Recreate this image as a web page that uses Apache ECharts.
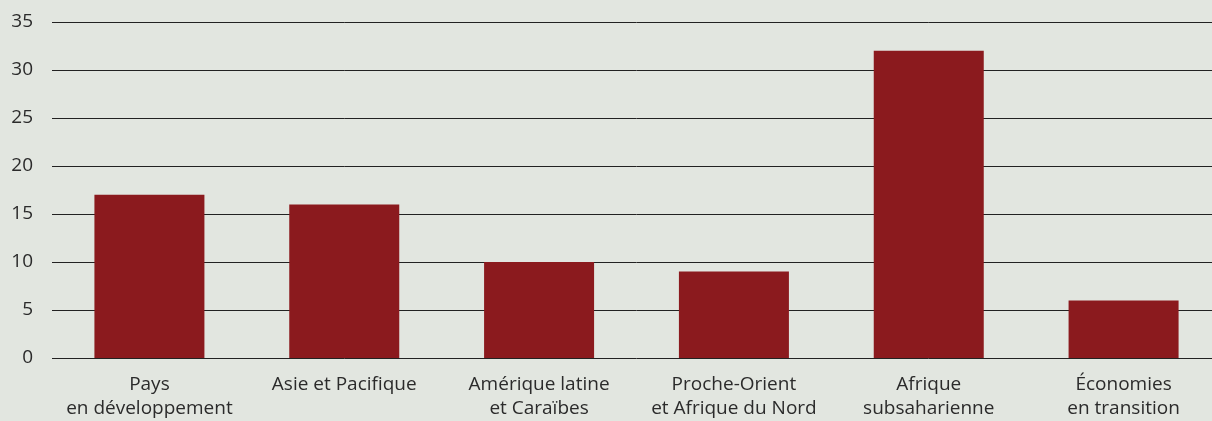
<!DOCTYPE html>
<html><head><meta charset="utf-8">
<script src="https://cdn.jsdelivr.net/npm/echarts@6/dist/echarts.min.js"></script>
<style>html,body{margin:0;padding:0;background:#e2e6e0;overflow:hidden;width:1212px;height:421px;}#c{width:1221px;height:421px;}</style>
</head><body><div id="c"></div>
<script>
const categories = ["Pays\nen développement","Asie et Pacifique","Amérique latine\net Caraïbes","Proche-Orient\net Afrique du Nord","Afrique\nsubsaharienne","Économies\nen transition"];
const values = [17, 16, 10, 9, 32, 6];
const yTicks = {min: 0, max: 35, interval: 5};
const chart = echarts.init(document.getElementById('c'));
chart.setOption({
  backgroundColor: '#e2e6e0',
  animation: false,
  grid: {left: 52, right: 0, top: 22, bottom: 56},
  xAxis: {
    type: 'category', data: categories,
    axisLine: {show: false}, axisTick: {show: false},
    axisLabel: {color: '#2b2b2b', fontSize: 19, fontFamily: 'Open Sans', lineHeight: 24, margin: 15, interval: 0}
  },
  yAxis: {
    type: 'value', min: yTicks.min, max: yTicks.max, interval: yTicks.interval,
    axisLine: {show: false}, axisTick: {show: false},
    axisLabel: {color: '#2b2b2b', fontSize: 19, fontFamily: 'Open Sans', margin: 19},
    splitLine: {lineStyle: {color: '#222', width: 1}}
  },
  series: [{type: 'bar', data: values, barWidth: 110, itemStyle: {color: '#8b1a1e'}}]
});
</script></body></html>
